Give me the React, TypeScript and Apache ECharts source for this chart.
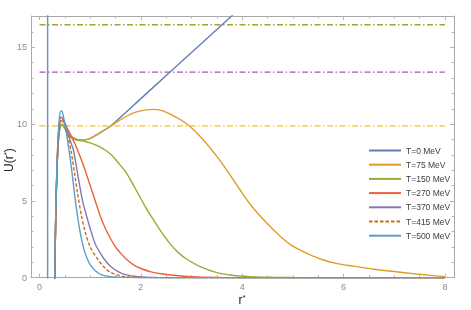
import React, { useEffect, useRef } from "react";
import * as echarts from "echarts";

// ---- data ----
const seriesNames = ["T=0 MeV", "T=75 MeV", "T=150 MeV", "T=270 MeV", "T=370 MeV", "T=415 MeV", "T=500 MeV"];
const seriesColors = ["#5E81B5", "#E19C24", "#8FB032", "#EB6235", "#8778B3", "#C56E1A", "#5D9EC7"];

// near-origin branch shared by all curves: U diverges at r*≈0.16, negative until r*≈0.30
const innerWall = [[0.16, 30], [0.16, -5]];

const uT0 = [[0.29, -5], [0.31, 2], [0.33, 5.3], [0.36, 8.2], [0.39, 9.5], [0.42, 9.9], [0.45, 9.95], [0.5, 9.7], [0.55, 9.45], [0.6, 9.25], [0.7, 9.05], [0.8, 8.97], [0.9, 8.98], [1.0, 9.07], [1.1, 9.25], [1.2, 9.45], [1.3, 9.65], [1.4, 9.88], [1.5, 10.16], [2, 11.66], [2.5, 13.16], [3, 14.66], [3.5, 16.16], [4, 17.66]];
const uT75 = [[0.29, -5], [0.31, 2], [0.33, 5.3], [0.36, 8.2], [0.39, 9.5], [0.42, 9.9], [0.45, 9.95], [0.5, 9.7], [0.55, 9.45], [0.6, 9.25], [0.7, 9.05], [0.8, 8.97], [0.9, 8.98], [1.0, 9.07], [1.1, 9.25], [1.2, 9.45], [1.3, 9.65], [1.4, 9.86], [1.5, 10.08], [1.7, 10.48], [1.9, 10.78], [2.1, 10.93], [2.28, 10.96], [2.45, 10.85], [2.6, 10.62], [2.8, 10.25], [2.97, 9.85], [3.2, 9.1], [3.5, 7.9], [3.75, 6.75], [3.96, 5.71], [4.2, 4.6], [4.49, 3.54], [4.75, 2.7], [5.0, 2.05], [5.3, 1.55], [5.6, 1.15], [5.9, 0.9], [6.2, 0.75], [6.6, 0.55], [7.0, 0.4], [7.5, 0.22], [8, 0.07]];
const uT150 = [[0.29, -5], [0.31, 2], [0.33, 5.3], [0.36, 8.2], [0.39, 9.55], [0.42, 9.95], [0.45, 10.0], [0.5, 9.75], [0.55, 9.45], [0.6, 9.2], [0.7, 9.0], [0.8, 8.93], [0.9, 8.87], [1.0, 8.78], [1.1, 8.65], [1.2, 8.5], [1.3, 8.3], [1.4, 8.05], [1.5, 7.7], [1.6, 7.3], [1.72, 6.8], [1.85, 6.05], [1.98, 5.27], [2.1, 4.55], [2.25, 3.76], [2.4, 3.0], [2.58, 2.2], [2.75, 1.6], [2.91, 1.2], [3.17, 0.72], [3.5, 0.33], [3.8, 0.16], [4.15, 0.07], [4.6, 0.03], [5, 0.01], [6, 0], [8, 0]];
const uT270 = [[0.29, -5], [0.31, 2], [0.33, 5.4], [0.36, 8.4], [0.39, 9.8], [0.42, 10.2], [0.45, 10.2], [0.5, 10.0], [0.55, 9.7], [0.6, 9.4], [0.7, 8.7], [0.8, 7.9], [0.9, 7.0], [1.0, 6.0], [1.1, 5.0], [1.2, 4.0], [1.3, 3.2], [1.4, 2.55], [1.5, 2.0], [1.6, 1.6], [1.7, 1.25], [1.85, 0.85], [2.0, 0.6], [2.2, 0.38], [2.4, 0.26], [2.7, 0.14], [3.0, 0.07], [3.5, 0.02], [4, 0], [8, 0]];
const uT370 = [[0.29, -5], [0.31, 2], [0.33, 5.5], [0.36, 8.6], [0.39, 10.0], [0.42, 10.45], [0.45, 10.4], [0.5, 10.1], [0.55, 9.6], [0.6, 9.0], [0.67, 8.3], [0.75, 6.8], [0.85, 5.0], [0.93, 4.0], [1.0, 3.2], [1.1, 2.2], [1.2, 1.6], [1.29, 1.15], [1.4, 0.75], [1.55, 0.4], [1.7, 0.2], [1.9, 0.08], [2.2, 0.02], [2.6, 0], [8, 0]];
const uT415 = [[0.29, -5], [0.31, 2], [0.33, 5.4], [0.36, 8.4], [0.39, 9.85], [0.42, 10.3], [0.45, 10.3], [0.5, 10.0], [0.55, 9.4], [0.62, 8.3], [0.7, 6.6], [0.75, 5.5], [0.83, 4.0], [0.9, 3.0], [1.0, 2.0], [1.16, 1.15], [1.3, 0.6], [1.4, 0.35], [1.6, 0.12], [1.8, 0.04], [2.2, 0], [8, 0]];
const uT500 = [[0.29, -5], [0.31, 2], [0.33, 5.6], [0.36, 8.7], [0.39, 10.3], [0.42, 10.85], [0.44, 10.85], [0.47, 10.5], [0.51, 9.8], [0.55, 9.0], [0.6, 7.9], [0.65, 6.6], [0.7, 5.2], [0.75, 4.0], [0.8, 3.0], [0.85, 2.2], [0.9, 1.6], [0.96, 1.1], [1.0, 0.85], [1.1, 0.45], [1.23, 0.18], [1.4, 0.06], [1.6, 0.02], [2, 0], [8, 0]];
const seriesData = [uT0, uT75, uT150, uT270, uT370, uT415, uT500];

const refLevels = [16.47, 13.39, 9.88];
const refColors = ["#A3A230", "#B24EB4", "#FFC20E"];
const refRange = [0, 8];

const xMajorTicks = [0, 2, 4, 6, 8];
const xMinorTicks = [0, 0.5, 1, 1.5, 2, 2.5, 3, 3.5, 4, 4.5, 5, 5.5, 6, 6.5, 7, 7.5, 8];
const yMajorTicks = [0, 5, 10, 15];
const yMinorTicks = [0, 1, 2, 3, 4, 5, 6, 7, 8, 9, 10, 11, 12, 13, 14, 15, 16, 17];

const X_MIN = -0.168;
const X_MAX = 8.18;
const Y_MIN = 0;
const Y_MAX = 17.04;

const FONT = "Liberation Sans, Arial, sans-serif";
const FRAME = "#A8A8A8";
const TICK = "#B4B4B4";

export default function App() {
  const ref = useRef<HTMLDivElement>(null);
  useEffect(() => {
    if (!ref.current) return;
    const chart = echarts.init(ref.current, undefined, { renderer: "svg" });

    const mkX = (pos: "bottom" | "top", ticks: number[], len: number, labels: boolean, line: boolean) => ({
      type: "value",
      position: pos,
      min: X_MIN,
      max: X_MAX,
      axisLine: { show: line, onZero: false, lineStyle: { color: FRAME, width: 1 } },
      axisTick: { show: true, inside: true, length: len, customValues: ticks, lineStyle: { color: TICK, width: 1 } },
      axisLabel: labels
        ? { show: true, customValues: xMajorTicks, color: "#8a8a8a", fontSize: 9, fontFamily: FONT, margin: 5 }
        : { show: false },
      splitLine: { show: false },
    });
    const mkY = (pos: "left" | "right", ticks: number[], len: number, labels: boolean, line: boolean) => ({
      type: "value",
      position: pos,
      min: Y_MIN,
      max: Y_MAX,
      axisLine: { show: line, onZero: false, lineStyle: { color: FRAME, width: 1 } },
      axisTick: { show: true, inside: true, length: len, customValues: ticks, lineStyle: { color: TICK, width: 1 } },
      axisLabel: labels
        ? { show: true, customValues: yMajorTicks, color: "#8a8a8a", fontSize: 9, fontFamily: FONT, margin: 4 }
        : { show: false },
      splitLine: { show: false },
    });

    const lineSeries = seriesNames.map((name, i) => ({
      name,
      type: "line",
      data: seriesData[i],
      xAxisIndex: 0,
      yAxisIndex: 0,
      symbol: "none",
      smooth: 0.3,
      clip: true,
      lineStyle: { color: seriesColors[i], width: 1.4, type: i === 5 ? [3.5, 2] : "solid" },
      itemStyle: { color: seriesColors[i] },
      z: 3 + i,
    }));
    const wallSeries = {
      name: "wall",
      type: "line",
      data: innerWall,
      symbol: "none",
      clip: true,
      lineStyle: { color: "#6F95BF", width: 1.5 },
      z: 12,
    };
    const levelSeries = refLevels.map((lv, i) => ({
      name: "level" + i,
      type: "line",
      data: [[refRange[0], lv], [refRange[1], lv]],
      xAxisIndex: 0,
      yAxisIndex: 0,
      symbol: "none",
      lineStyle: { color: refColors[i], width: 1.3, type: [6, 2.5, 1.5, 2.5] },
      z: 2,
    }));

    chart.setOption({
      animation: false,
      grid: { left: 31, top: 16, right: 17, bottom: 32.3, containLabel: false },
      xAxis: [
        mkX("bottom", xMajorTicks, 4, true, true),
        mkX("bottom", xMinorTicks, 2.5, false, false),
        mkX("top", xMajorTicks, 4, false, true),
        mkX("top", xMinorTicks, 2.5, false, false),
      ],
      yAxis: [
        mkY("left", yMajorTicks, 4, true, true),
        mkY("left", yMinorTicks, 2.5, false, false),
        mkY("right", yMajorTicks, 4, false, true),
        mkY("right", yMinorTicks, 2.5, false, false),
      ],
      legend: {
        data: seriesNames,
        orient: "vertical",
        left: 368,
        top: 146,
        padding: 0,
        itemWidth: 32,
        itemHeight: 10,
        itemGap: 5.2,
        itemStyle: { opacity: 0 },
        textStyle: { fontSize: 8.5, color: "#404040", fontFamily: FONT },
        selectedMode: false,
      },
      graphic: [
        {
          type: "text",
          x: 9,
          y: 160,
          rotation: Math.PI / 2,
          style: {
            text: "U(r{s|*})",
            rich: { s: { fontSize: 8, verticalAlign: "top", padding: [0, 0, 5, 0], fontFamily: FONT, fill: "#222" } },
            font: `12px ${FONT}`,
            fill: "#222",
            align: "center",
            verticalAlign: "middle",
          },
        },
        {
          type: "text",
          x: 242,
          y: 300,
          style: {
            text: "r{s|*}",
            rich: { s: { fontSize: 8, padding: [0, 0, 5, 0], fontFamily: FONT, fill: "#222" } },
            font: `12px ${FONT}`,
            fill: "#222",
            align: "center",
            verticalAlign: "middle",
          },
        },
      ],
      series: [...levelSeries, ...lineSeries, wallSeries],
    });
    return () => chart.dispose();
  }, []);
  return <div ref={ref} style={{ position: "fixed", left: 0, top: 0, width: 471, height: 310 }} />;
}
